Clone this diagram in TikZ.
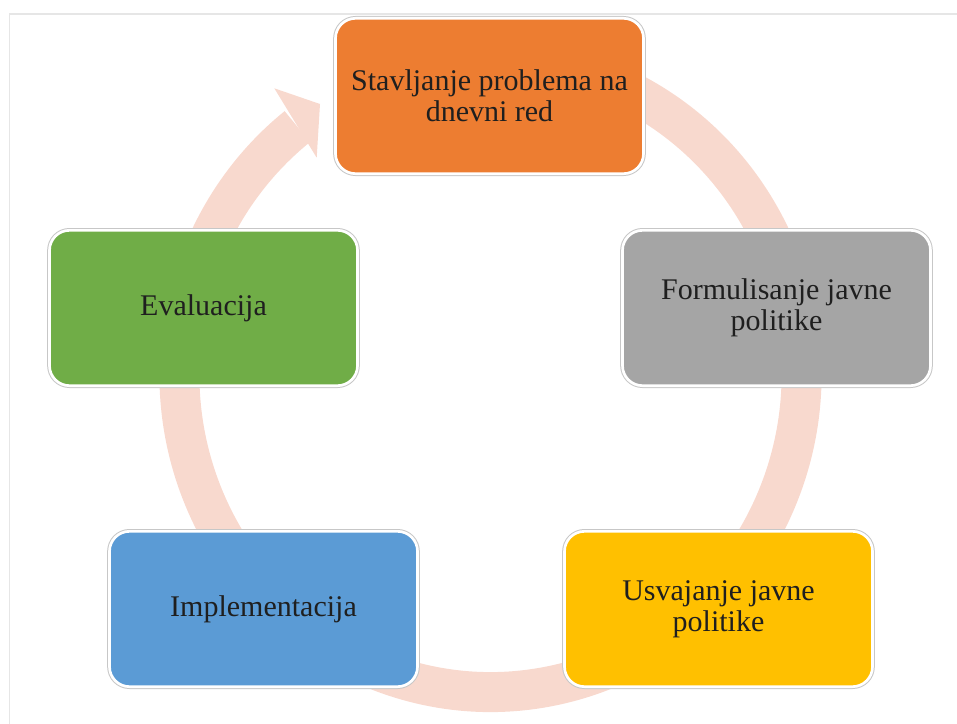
\documentclass[tikz,border=0pt]{standalone}
\usepackage{fontspec}
\setmainfont{Liberation Serif}
\usetikzlibrary{arrows.meta,positioning,calc}
\definecolor{Oc}{HTML}{ED7D31}
\definecolor{Gc}{HTML}{A5A5A5}
\definecolor{Yc}{HTML}{FFC000}
\definecolor{Bc}{HTML}{5B9BD5}
\definecolor{Ec}{HTML}{70AD47}
\definecolor{ringc}{HTML}{F8D9CE}
\definecolor{linec}{HTML}{E6E6E6}
\tikzset{
  stage/.style={rectangle, rounded corners=15pt, draw=white, line width=2pt,
    preaction={draw=black!22, line width=3.5pt},
    minimum width=231pt, minimum height=116.5pt, inner sep=0pt,
    align=center, text=black!88, font=\fontsize{22.5}{23}\selectfont},
  ring/.style={draw=ringc, line width=30pt},
  tipfill/.style={fill=ringc},
  pageline/.style={draw=linec, line width=1.1pt},
}

\begin{document}
\begin{tikzpicture}[x=0.75pt, y=-0.75pt]
  \useasboundingbox (0,0) rectangle (957,724);
  \draw[pageline] (9.5,724) -- (9.5,14) -- (957,14);
  % ring arrow behind the stages
  \coordinate (hub) at (490.5,375);
  \draw[ring] (hub) ++(-70:311 and 317) arc[start angle=-70, end angle=231.6, x radius=311, y radius=317];
  \fill[tipfill] (274.3,88.3) -- (320,104) -- (316.7,157.7) -- cycle;
  % stages
  \node[stage, fill=Oc] (agenda) at (489.5,96) {Stavljanje problema na\\dnevni red};
  \node[stage, fill=Gc] (formul) at (776.5,308) {Formulisanje javne\\politike};
  \node[stage, fill=Yc] (adopt) at (718.5,609) {Usvajanje javne\\politike};
  \node[stage, fill=Bc] (impl) at (263.5,609) {Implementacija};
  \node[stage, fill=Ec] (eval) at (203.5,308) {Evaluacija};
\end{tikzpicture}
\end{document}
